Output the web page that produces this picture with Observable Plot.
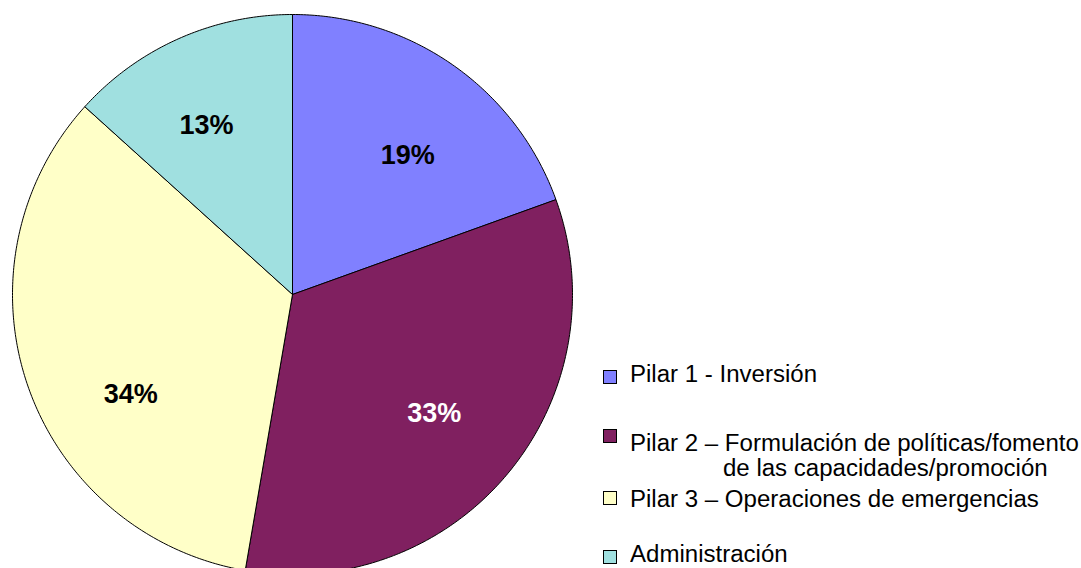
<!DOCTYPE html>
<html>
<head>
<meta charset="utf-8">
<script src="https://cdn.jsdelivr.net/npm/d3@7"></script>
<script src="https://cdn.jsdelivr.net/npm/@observablehq/plot@0.6"></script>
<style>
  html, body { margin: 0; padding: 0; background: #fff; overflow: hidden; }
  #wrap { position: relative; width: 1081px; height: 568px; }
  #legend { position: absolute; left: 0; top: 0; width: 1081px; height: 568px; pointer-events: none;
            font-family: "Liberation Sans", Arial, sans-serif; font-size: 23px; color: #000; }
  .sw { position: absolute; left: 603px; width: 12px; height: 12px; border: 1px solid #000; }
  .lbl { position: absolute; line-height: 18px; white-space: nowrap;
         transform: scaleX(1.045); transform-origin: left center; }
</style>
</head>
<body>
<div id="wrap"><div id="chart"></div><div id="legend"></div></div>
<script>
const categories = [
  "Pilar 1 - Inversión",
  "Pilar 2 – Formulación de políticas/fomento\nde las capacidades/promoción",
  "Pilar 3 – Operaciones de emergencias",
  "Administración"
];
const values = [19.5, 33.2, 34.0, 13.3];
const labels = ["19%", "33%", "34%", "13%"];
const colors = ["#8080FF", "#802060", "#FFFFC8", "#A0E0E0"];
const labelColors = ["#000", "#fff", "#000", "#000"];

const pie = d3.pie().sort(null).value(d => d)(values);

// polygons in unit coordinates (angle clockwise from north)
const polys = [];
pie.forEach((s, i) => {
  const a0 = s.startAngle, a1 = s.endAngle;
  const n = Math.max(2, Math.ceil((a1 - a0) / 0.01));
  polys.push({slice: i, x: 0, y: 0});
  for (let k = 0; k <= n; k++) {
    const a = a0 + (a1 - a0) * k / n;
    polys.push({slice: i, x: Math.sin(a), y: Math.cos(a)});
  }
  polys.push({slice: i, x: 0, y: 0});
});

const labelPts = pie.map((s, i) => {
  const a = (s.startAngle + s.endAngle) / 2;
  const r = 0.66;
  return {slice: i, text: labels[i], x: r * Math.sin(a), y: r * Math.cos(a)};
});

const W = 1081, H = 568;
const mL = 12, mR = 509, mT = 14, mB = 0;
const pxPerUnit = (W - mL - mR) / 2;
const yLow = 1 - (H - mT - mB) / pxPerUnit;

// label nudges (px), as placed in the original chart
const nudge = [[9, 12], [0, 0], [13, 39], [-11, 0]];

const marks = [];
for (let i = 0; i < values.length; i++) {
  marks.push(Plot.line(polys.filter(d => d.slice === i), {
    x: "x", y: "y", fill: colors[i], stroke: "#000", strokeWidth: 1, curve: "linear"
  }));
}
for (let i = 0; i < values.length; i++) {
  marks.push(Plot.text(labelPts.filter(d => d.slice === i), {
    x: "x", y: "y", text: "text", dx: nudge[i][0], dy: nudge[i][1],
    fill: labelColors[i],
    fontSize: 27, fontWeight: "bold", fontFamily: "Liberation Sans, Arial, sans-serif"
  }));
}

const chart = Plot.plot({
  width: W, height: H,
  marginLeft: mL, marginRight: mR, marginTop: mT, marginBottom: mB,
  x: {domain: [-1, 1], axis: null},
  y: {domain: [yLow, 1], axis: null},
  style: {background: "#fff", overflow: "hidden"},
  marks
});
document.getElementById("chart").appendChild(chart);

// legend layout
const swatchTops = [370, 429, 491, 550];
const lineTops = [[365], [434, 459], [490], [545]];
const leg = document.getElementById("legend");
categories.forEach((c, i) => {
  const sw = document.createElement("div");
  sw.className = "sw";
  sw.style.top = swatchTops[i] + "px";
  sw.style.background = colors[i];
  leg.appendChild(sw);
  c.split("\n").forEach((t, j) => {
    const l = document.createElement("div");
    l.className = "lbl";
    l.style.top = lineTops[i][j] + "px";
    l.style.left = (j === 0 ? 630 : 723) + "px";
    l.textContent = t;
    leg.appendChild(l);
  });
});
</script>
</body>
</html>
